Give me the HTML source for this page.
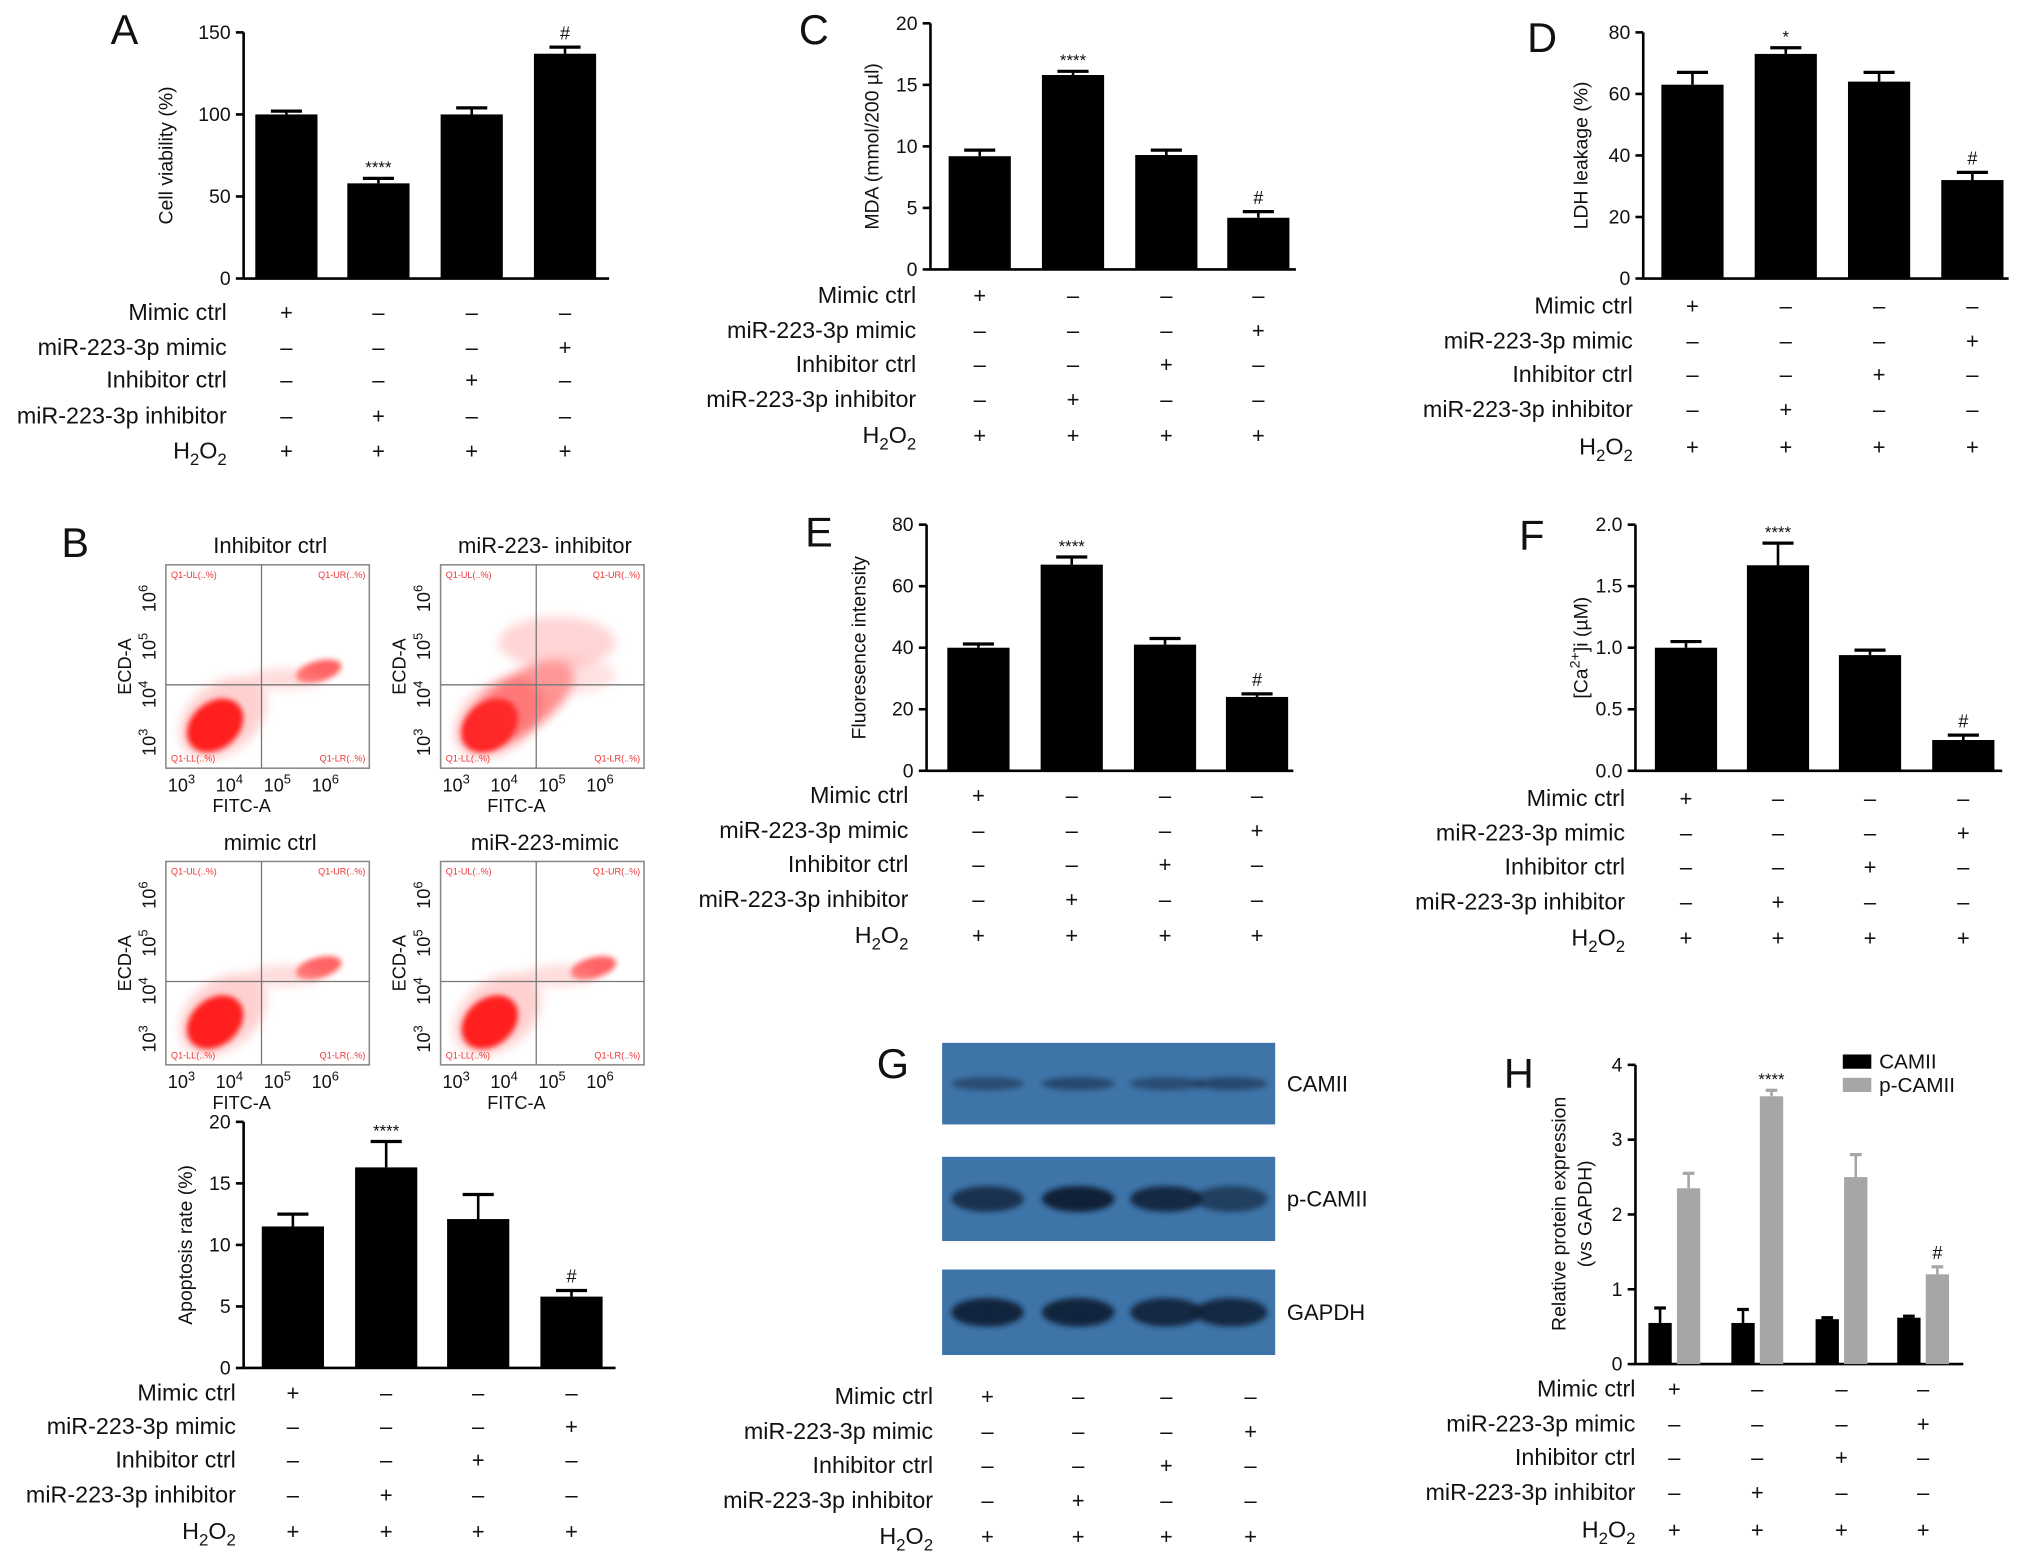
<!DOCTYPE html>
<html><head><meta charset="utf-8"><style>
html,body{margin:0;padding:0;background:#fff}
svg{display:block}
text{font-family:"Liberation Sans",Arial,sans-serif;fill:#111}
</style></head><body>
<svg id="fig" width="2032" height="1561" viewBox="0 0 1568 1205" preserveAspectRatio="none" xmlns="http://www.w3.org/2000/svg">
<defs>
<filter id="blur2" x="-50%" y="-50%" width="200%" height="200%"><feGaussianBlur stdDeviation="4"/></filter>
<filter id="blur1" x="-50%" y="-50%" width="200%" height="200%"><feGaussianBlur stdDeviation="2"/></filter>
</defs>
<g id="root"></g>
</svg>
<script>
const NS='http://www.w3.org/2000/svg';
const root=document.getElementById('root');
function mk(tag,attrs,parent,txt){const e=document.createElementNS(NS,tag);for(const k in attrs)e.setAttribute(k,attrs[k]);if(txt!==undefined)e.textContent=txt;(parent||root).appendChild(e);return e;}

// ---- data ----
const groupLabels=['Mimic ctrl','miR-223-3p mimic','Inhibitor ctrl','miR-223-3p inhibitor','H2O2'];
const signsMimic=['+','\u2013','\u2013','\u2013'];
const signsMimicB=['\u2013','\u2013','\u2013','+'];
const signsInhCtrl=['\u2013','\u2013','+','\u2013'];
const signsInh=['\u2013','+','\u2013','\u2013'];
const signsH2O2=['+','+','+','+'];
const signRows=[signsMimic,signsMimicB,signsInhCtrl,signsInh,signsH2O2];

const valsA=[100,58,100,137]; const errA=[2,3,4,4]; const sigA=['','****','','#']; const ticksA=[0,50,100,150];
const valsC=[9.2,15.8,9.3,4.2]; const errC=[0.5,0.3,0.4,0.5]; const sigC=['','****','','#']; const ticksC=[0,5,10,15,20];
const valsD=[63,73,64,32]; const errD=[4,2,3,2.5]; const sigD=['','*','','#']; const ticksD=[0,20,40,60,80];
const valsE=[40,67,41,24]; const errE=[1.2,2.5,2,1]; const sigE=['','****','','#']; const ticksE=[0,20,40,60,80];
const valsF=[1.0,1.67,0.94,0.25]; const errF=[0.05,0.18,0.04,0.04]; const sigF=['','****','','#']; const ticksF=['0.0','0.5','1.0','1.5','2.0'];
const valsB=[11.5,16.3,12.1,5.8]; const errB=[1,2.1,2,0.5]; const sigB=['','****','','#']; const ticksB=[0,5,10,15,20];
const valsH1=[0.55,0.55,0.6,0.62]; const errH1=[0.2,0.18,0.02,0.02];
const valsH2=[2.35,3.58,2.5,1.2]; const errH2=[0.2,0.08,0.3,0.1]; const sigH=['','****','','#']; const ticksH=[0,1,2,3,4];

const FS=18;
function h2o2(x,y,parent){const t=mk('text',{x:x,y:y,'text-anchor':'end','font-size':FS},parent);
 t.appendChild(document.createTextNode('H'));mk('tspan',{dy:5,'font-size':13},t,'2');
 mk('tspan',{dy:-5},t,'O');mk('tspan',{dy:5,'font-size':13},t,'2');return t;}

function rows(g,labelX,ys,cols,name){
 ys.forEach((y,i)=>{
  let t;
  if(i===4){t=h2o2(labelX,y+6,g);}else{t=mk('text',{x:labelX,y:y+6,'text-anchor':'end','font-size':FS},g,groupLabels[i]);}
  
  
  signRows[i].forEach((s,j)=>{const st=mk('text',{x:cols[j],y:y+6,'text-anchor':'middle','font-size':17},g,s);
   
   });
 });
}

function barChart(o){
 const g=mk('g',{});
 
 
 const y=v=>o.bottom-(v-o.min)/(o.max-o.min)*(o.bottom-o.top);
 const ax=mk('line',{x1:o.ax,y1:o.top,x2:o.ax,y2:o.bottom,stroke:'#000','stroke-width':2},g);
 
 
 const bx=mk('line',{x1:o.ax,y1:o.bottom,x2:o.axEnd,y2:o.bottom,stroke:'#000','stroke-width':2},g);
 
 
 o.ticks.forEach(t=>{const v=parseFloat(t);const yy=y(v);
  mk('line',{x1:o.ax-6,y1:yy,x2:o.ax,y2:yy,stroke:'#000','stroke-width':2},g);
  const tl=mk('text',{x:o.ax-10,y:yy+5,'text-anchor':'end','font-size':15},g,String(t));
  
  });
 const lab=mk('text',{x:o.labX,y:(o.top+o.bottom)/2,'text-anchor':'middle','font-size':15,transform:`rotate(-90 ${o.labX} ${(o.top+o.bottom)/2})`},g);
 
 
 if(o.ca){lab.appendChild(document.createTextNode('[Ca'));mk('tspan',{dy:-6,'font-size':11},lab,'2+');mk('tspan',{dy:6},lab,']i (\u00b5M)');}
 else lab.textContent=o.label;
 o.series.forEach((s,si)=>{
  s.vals.forEach((v,i)=>{
   const cx=o.cols[i]+(s.off||0);const w=s.w;
   const r=mk('rect',{x:cx-w/2,y:y(v),width:w,height:o.bottom-y(v),fill:s.color},g);
   
   
   const ye=y(v+s.err[i]);
   mk('line',{x1:cx,y1:ye,x2:cx,y2:y(v),stroke:s.color,'stroke-width':2},g);
   mk('line',{x1:cx-w/4,y1:ye,x2:cx+w/4,y2:ye,stroke:s.color,'stroke-width':2.5},g);
   if(s.sig&&s.sig[i]){const st=mk('text',{x:cx,y:ye-(s.sig[i]==='#'?6:4),'text-anchor':'middle','font-size':s.sig[i]==='#'?14:13},g,s.sig[i]);
    
    }
  });
 });
 const L=mk('text',{x:o.letter[0],y:o.letter[1],'text-anchor':'middle','font-size':32},g,o.L);
 
 
 rows(g,o.rowX,o.rowYs,o.sCols||o.cols,o.name);
 return g;
}

barChart({name:'panel-a',L:'A',letter:[96,34],ax:188,axEnd:470,top:25,bottom:215,min:0,max:150,ticks:ticksA,label:'Cell viability (%)',labX:133,cols:[221,292,364,436],
 series:[{vals:valsA,err:errA,sig:sigA,w:48,color:'#000'}],rowX:175,rowYs:[241,268,293,321,348]});
barChart({name:'panel-c',L:'C',letter:[628,34],ax:718,axEnd:1000,top:18,bottom:208,min:0,max:20,ticks:ticksC,label:'MDA (mmol/200 \u00b5l)',labX:678,cols:[756,828,900,971],
 series:[{vals:valsC,err:errC,sig:sigC,w:48,color:'#000'}],rowX:707,rowYs:[228,255,281,308,336]});
barChart({name:'panel-d',L:'D',letter:[1190,40],ax:1268,axEnd:1550,top:25,bottom:215,min:0,max:80,ticks:ticksD,label:'LDH leakage (%)',labX:1225,cols:[1306,1378,1450,1522],
 series:[{vals:valsD,err:errD,sig:sigD,w:48,color:'#000'}],rowX:1260,rowYs:[236,263,289,316,345]});
barChart({name:'panel-e',L:'E',letter:[632,422],ax:715,axEnd:998,top:405,bottom:595,min:0,max:80,ticks:ticksE,label:'Fluoresence intensity',labX:668,cols:[755,827,899,970],
 series:[{vals:valsE,err:errE,sig:sigE,w:48,color:'#000'}],rowX:701,rowYs:[614,641,667,694,722]});
barChart({name:'panel-f',L:'F',letter:[1182,424],ax:1262,axEnd:1545,top:405,bottom:595,min:0,max:2,ticks:ticksF,ca:true,labX:1225,cols:[1301,1372,1443,1515],
 series:[{vals:valsF,err:errF,sig:sigF,w:48,color:'#000'}],rowX:1254,rowYs:[616,643,669,696,724]});
barChart({name:'panel-b-apoptosis',L:'',letter:[0,0],ax:188,axEnd:475,top:866,bottom:1056,min:0,max:20,ticks:ticksB,label:'Apoptosis rate (%)',labX:148,cols:[226,298,369,441],
 series:[{vals:valsB,err:errB,sig:sigB,w:48,color:'#000'}],rowX:182,rowYs:[1075,1101,1127,1154,1182]});
barChart({name:'panel-h',L:'H',letter:[1172,840],ax:1262,axEnd:1515,top:822,bottom:1053,min:0,max:4,ticks:ticksH,label:'',labX:1208,cols:[1281,1345,1410,1473],sCols:[1292,1356,1421,1484],
 series:[{vals:valsH1,err:errH1,w:18,color:'#000'},{vals:valsH2,err:errH2,sig:sigH,w:18,off:22,color:'#a6a6a6'}],rowX:1262,rowYs:[1072,1099,1125,1152,1181]});
[['Relative protein expression',1208],['(vs GAPDH)',1228]].forEach(([t,x])=>{const e=mk('text',{x:x,y:937,'text-anchor':'middle','font-size':15,transform:`rotate(-90 ${x} 937)`},root,t);
 
 });
[['CAMII','#000',820],['p-CAMII','#a6a6a6',838]].forEach(([t,c,y])=>{
 const r=mk('rect',{x:1422,y:y-6,width:22,height:11,fill:c});
 
 
 const e=mk('text',{x:1450,y:y+5,'font-size':16},root,t);
 
 });

// Panel B flow cytometry
const bL=mk('text',{x:58,y:430,'text-anchor':'middle','font-size':32},root,'B');


const flowTitles=['Inhibitor ctrl','miR-223- inhibitor','mimic ctrl','miR-223-mimic'];
const flowPos=[[128,436],[340,436],[128,665],[340,665]];
flowTitles.forEach((title,k)=>{
 const [x0,y0]=flowPos[k];const w=157,h=157;
 const g=mk('g',{});
 
 
 mk('text',{x:x0+w/2+2,y:y0-9,'text-anchor':'middle','font-size':17},g,title);
 const qx=x0+w*0.47,qy=y0+h*0.59;
 mk('ellipse',{cx:x0+38,cy:y0+124,rx:24,ry:18,fill:'#f00',transform:`rotate(-40 ${x0+38} ${y0+124})`,filter:'url(#blur1)'},g);
 mk('ellipse',{cx:x0+44,cy:y0+118,rx:38,ry:26,fill:'#f66',opacity:0.3,transform:`rotate(-40 ${x0+44} ${y0+118})`,filter:'url(#blur2)'},g);
 if(k===1){
  mk('ellipse',{cx:x0+60,cy:y0+108,rx:50,ry:22,fill:'#f33',opacity:0.55,transform:`rotate(-35 ${x0+60} ${y0+108})`,filter:'url(#blur2)'},g);
  mk('ellipse',{cx:x0+90,cy:y0+60,rx:45,ry:20,fill:'#f88',opacity:0.35,filter:'url(#blur2)'},g);
  mk('ellipse',{cx:x0+100,cy:y0+85,rx:35,ry:14,fill:'#faa',opacity:0.35,filter:'url(#blur2)'},g);
 } else {
  mk('ellipse',{cx:x0+118,cy:y0+82,rx:18,ry:8,fill:'#f22',opacity:0.7,transform:`rotate(-15 ${x0+118} ${y0+82})`,filter:'url(#blur1)'},g);
  mk('ellipse',{cx:x0+92,cy:y0+88,rx:28,ry:8,fill:'#f99',opacity:0.35,filter:'url(#blur2)'},g);
 }
 mk('rect',{x:x0,y:y0,width:w,height:h,fill:'none',stroke:'#888','stroke-width':1.2},g);
 mk('line',{x1:qx,y1:y0,x2:qx,y2:y0+h,stroke:'#777','stroke-width':1},g);
 mk('line',{x1:x0,y1:qy,x2:x0+w,y2:qy,stroke:'#777','stroke-width':1},g);
 ['Q1-UL','Q1-UR','Q1-LL','Q1-LR'].forEach((q,i)=>{
  mk('text',{x:i%2?x0+w-3:x0+4,y:i<2?y0+10:y0+h-5,'text-anchor':i%2?'end':'start','font-size':7,style:'fill:#e33'},g,q+'(..%)');});
 [0,1,2,3].forEach(i=>{
  const tx=x0+12+i*37;const t=mk('text',{x:tx,y:y0+h+18,'text-anchor':'middle','font-size':14},g,'10');
  mk('tspan',{dy:-6,'font-size':10},t,String(3+i));
  const ty=y0+h-20-i*37;const t2=mk('text',{x:x0-8,y:ty,'text-anchor':'middle','font-size':14,transform:`rotate(-90 ${x0-8} ${ty})`},g,'10');
  mk('tspan',{dy:-6,'font-size':10},t2,String(3+i));
 });
 mk('text',{x:x0+w/2-20,y:y0+h+34,'text-anchor':'middle','font-size':14},g,'FITC-A');
 mk('text',{x:x0-27,y:y0+h/2,'text-anchor':'middle','font-size':14,transform:`rotate(-90 ${x0-27} ${y0+h/2})`},g,'ECD-A');
});

// Panel G western blot
const gL=mk('text',{x:689,y:832,'text-anchor':'middle','font-size':32},root,'G');


const blotNames=['CAMII','p-CAMII','GAPDH'];
const blotY=[[805,868],[893,958],[980,1046]];
const lanes=[762,832,900,950];
const bandI=[[0.45,0.5,0.45,0.5],[0.75,0.95,0.85,0.6],[0.9,0.9,0.85,0.85]];
blotNames.forEach((n,r)=>{
 const [a,b]=blotY[r];const g=mk('g',{});
 
 
 mk('rect',{x:727,y:a,width:257,height:b-a,fill:'#3f74a8'},g);
 const cy=(a+b)/2;
 lanes.forEach((lx,i)=>{mk('ellipse',{cx:lx,cy:cy,rx:28,ry:r===0?5:(r===1?10:11),fill:'#0c1c33',opacity:bandI[r][i],filter:'url(#blur1)'},g);});
 mk('text',{x:993,y:cy+6,'font-size':17},g,n);
});
rows(root,720,[1078,1105,1131,1158,1186],[762,832,900,965],'panel-g');
</script>
</body></html>
